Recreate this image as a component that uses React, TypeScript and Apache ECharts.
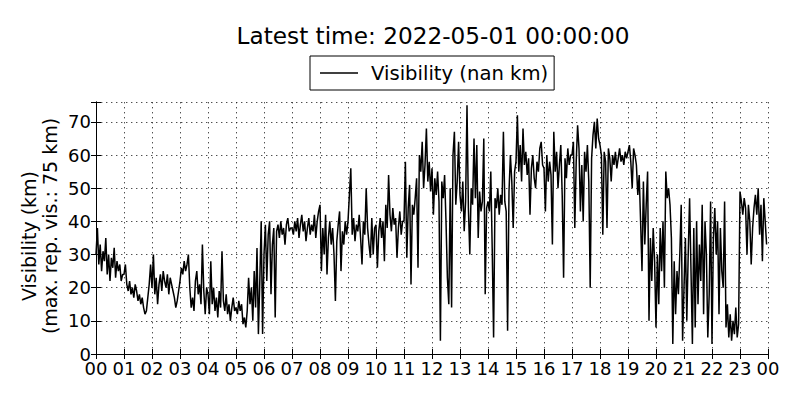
import React, { useEffect, useRef } from "react";
import * as echarts from "echarts";

const FONT = '"DejaVu Sans", "Liberation Sans", sans-serif';

// Sampling step of the series: 3 minutes, expressed in hours
const STEP_H = 0.05;

const TITLE = "Latest time: 2022-05-01 00:00:00";
const SERIES_NAME = "Visibility (nan km)";
const Y_LABEL_1 = "Visibility (km)";
const Y_LABEL_2 = "(max. rep. vis.: 75 km)";

// Hour tick labels 00 .. 23, 00
const hourLabels = [
  "00", "01", "02", "03", "04", "05", "06", "07", "08", "09", "10", "11",
  "12", "13", "14", "15", "16", "17", "18", "19", "20", "21", "22", "23", "00",
];

// Visibility (km), 3-minute samples, 00:00 - 05:57
const visNight = [
  30, 38, 27, 33, 25, 31, 28, 35, 24, 30, 22, 29, 26, 32, 23, 28, 25, 27, 22, 24,
  24, 27, 21, 19, 22, 18, 20, 17, 21, 19, 16, 18, 15, 17, 14, 12, 13, 17, 21, 27,
  20, 30, 18, 23, 15, 21, 24, 19, 25, 22, 20, 24, 18, 23, 21, 19, 17, 14, 16, 19,
  22, 26, 24, 28, 25, 27, 30, 20, 14, 17, 13, 22, 25, 18, 21, 15, 33, 19, 12, 20,
  18, 12, 28, 15, 20, 13, 17, 11, 19, 14, 31, 16, 13, 18, 12, 15, 10, 14, 17, 13,
  14, 12, 16, 13, 15, 9, 11, 8, 13, 23, 15, 20, 10, 25, 14, 32, 6, 22, 40, 6,
];

// 06:00 - 11:57
const visMorning = [
  30, 39, 22, 36, 40, 18, 33, 38, 11, 37, 39, 35, 40, 36, 38, 33, 39, 41, 37, 38,
  38, 36, 40, 37, 41, 35, 39, 42, 37, 40, 34, 38, 41, 36, 39, 37, 42, 35, 40, 43,
  45, 25, 38, 30, 42, 24, 35, 40, 33, 38, 30, 16, 34, 39, 43, 25, 37, 33, 40, 36,
  40, 48, 56, 36, 41, 34, 39, 37, 42, 35, 27, 40, 36, 50, 38, 33, 29, 41, 30, 38,
  39, 26, 37, 41, 35, 40, 28, 45, 38, 54, 42, 37, 44, 39, 41, 29, 38, 43, 36, 40,
  40, 58, 29, 44, 51, 21, 45, 42, 47, 53, 26, 60, 55, 64, 50, 57, 68, 52, 58, 49,
];

// 12:00 - 17:57
const visAfternoon = [
  56, 42, 53, 48, 55, 46, 4, 52, 47, 54, 40, 23, 15, 50, 14, 60, 67, 45, 52, 64,
  48, 43, 52, 37, 46, 75, 44, 30, 50, 45, 65, 47, 63, 35, 49, 43, 46, 65, 18, 44,
  46, 43, 55, 32, 5, 47, 44, 50, 42, 48, 45, 67, 46, 43, 7, 49, 60, 52, 38, 55,
  58, 72, 55, 63, 52, 68, 57, 61, 54, 59, 42, 56, 60, 53, 50, 58, 55, 62, 64, 57,
  56, 43, 60, 52, 58, 54, 33, 67, 55, 61, 50, 57, 63, 48, 23, 59, 53, 62, 57, 60,
  60, 64, 38, 58, 69, 62, 43, 57, 40, 61, 55, 63, 52, 20, 59, 66, 70, 62, 71, 65,
];

// 18:00 - 23:57
const visEvening = [
  63, 60, 36, 61, 58, 38, 62, 59, 52, 60, 57, 61, 56, 59, 62, 58, 60, 57, 61, 59,
  61, 63, 58, 50, 62, 60, 57, 48, 54, 40, 25, 52, 33, 45, 55, 10, 35, 22, 38, 28,
  8, 30, 15, 38, 25, 40, 20, 55, 47, 50, 45, 35, 3, 28, 12, 25, 18, 30, 45, 4,
  20, 35, 10, 30, 47, 25, 3, 38, 8, 40, 15, 33, 22, 45, 12, 40, 30, 5, 18, 46,
  3, 35, 44, 30, 40, 12, 38, 25, 20, 46, 8, 15, 5, 12, 4, 10, 6, 14, 5, 9,
  49, 46, 42, 47, 44, 30, 45, 40, 27, 38, 44, 48, 42, 50, 36, 45, 28, 47, 40, 33,
];

const Y_MAX = 76;

export default function App() {
  const ref = useRef<HTMLDivElement>(null);

  useEffect(() => {
    if (!ref.current) return;
    const chart = echarts.init(ref.current, null, { renderer: "svg" });
    const values = [...visNight, ...visMorning, ...visAfternoon, ...visEvening];
    const data = values.map((v, i) => [i * STEP_H, v]);

    const frameLine = { show: true, lineStyle: { color: "#000", width: 1 } };
    const tick = { show: true, inside: true, length: 5, lineStyle: { color: "#000", width: 1 } };
    const grid = { show: true, lineStyle: { color: "#222", width: 0.8, type: [1.4, 3.6] } };

    chart.setOption({
      animation: false,
      backgroundColor: "#fff",
      textStyle: { fontFamily: FONT },
      grid: { left: 96, right: 32, top: 102, bottom: 46, containLabel: false },
      legend: {
        data: [SERIES_NAME],
        left: 310,
        top: 56,
        padding: [7, 6, 7, 10],
        itemWidth: 38,
        itemHeight: 1.4,
        icon: "rect",
        borderColor: "#000",
        borderWidth: 1,
        borderRadius: 0,
        backgroundColor: "#fff",
        itemStyle: { color: "#000" },
        textStyle: { fontSize: 19.6, color: "#000", fontFamily: FONT, padding: [0, 0, 0, 8] },
      },
      xAxis: [
        {
          type: "value",
          min: 0,
          max: 24,
          interval: 1,
          position: "bottom",
          axisLine: frameLine,
          axisTick: tick,
          axisLabel: {
            margin: 7.5,
            fontSize: 18,
            lineHeight: 14,
            color: "#000",
            fontFamily: FONT,
            formatter: (v: number) => hourLabels[Math.round(v)] ?? "",
          },
          splitLine: grid,
        },
        {
          type: "value",
          min: 0,
          max: 24,
          interval: 1,
          position: "top",
          axisLine: frameLine,
          axisTick: tick,
          axisLabel: { show: false },
          splitLine: { show: false },
        },
      ],
      yAxis: [
        {
          type: "value",
          min: 0,
          max: Y_MAX,
          interval: 10,
          position: "left",
          axisLine: frameLine,
          axisTick: tick,
          axisLabel: {
            margin: 5,
            fontSize: 18,
            lineHeight: 14,
            color: "#000",
            fontFamily: FONT,
            formatter: (v: number) => (v % 10 === 0 ? String(v) : ""),
          },
          splitLine: grid,
        },
        {
          type: "value",
          min: 0,
          max: Y_MAX,
          interval: 10,
          position: "right",
          axisLine: frameLine,
          axisTick: tick,
          axisLabel: { show: false },
          splitLine: { show: false },
        },
      ],
      series: [
        {
          type: "line",
          name: SERIES_NAME,
          data,
          xAxisIndex: 0,
          yAxisIndex: 0,
          symbol: "none",
          showSymbol: false,
          lineStyle: { color: "#000", width: 1.5 },
          itemStyle: { color: "#000" },
        },
      ],
      graphic: [
        {
          type: "text",
          x: 433,
          y: 35,
          style: {
            text: TITLE,
            fontSize: 23.2,
            fontFamily: FONT,
            fill: "#000",
            align: "center",
            verticalAlign: "middle",
          },
        },
        {
          type: "text",
          x: 29,
          y: 236,
          rotation: Math.PI / 2,
          style: {
            text: Y_LABEL_1,
            fontSize: 19,
            fontFamily: FONT,
            fill: "#000",
            align: "center",
            verticalAlign: "middle",
          },
        },
        {
          type: "text",
          x: 50,
          y: 226,
          rotation: Math.PI / 2,
          style: {
            text: Y_LABEL_2,
            fontSize: 19,
            fontFamily: FONT,
            fill: "#000",
            align: "center",
            verticalAlign: "middle",
          },
        },
      ],
    });

    return () => chart.dispose();
  }, []);

  return (
    <div
      ref={ref}
      style={{ position: "fixed", left: 0, top: 0, width: 800, height: 400, background: "#fff" }}
    />
  );
}
